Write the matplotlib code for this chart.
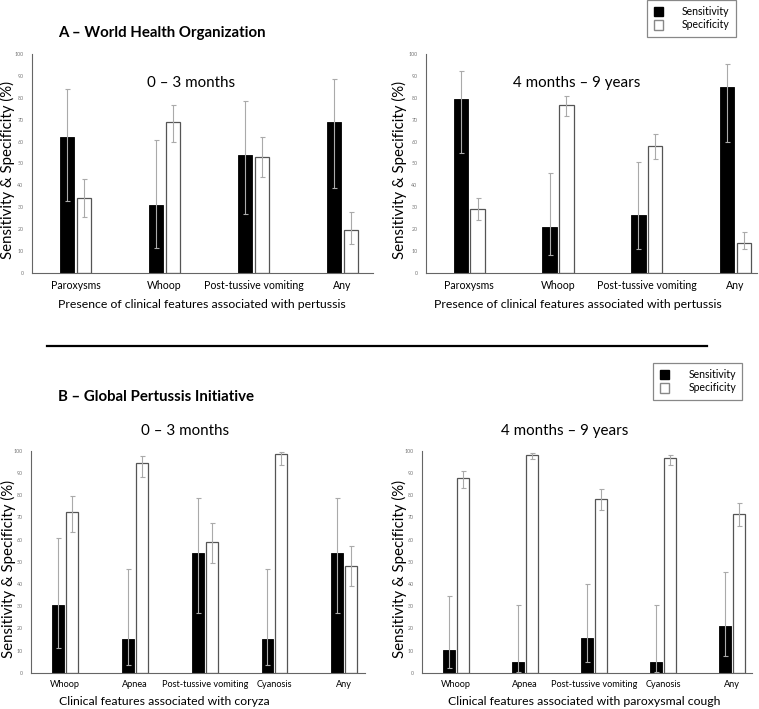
import matplotlib.pyplot as plt
import numpy as np
from matplotlib.lines import Line2D
from matplotlib.patches import Patch

plt.rcParams['font.family'] = ['Lato', 'DejaVu Sans']

#### data ####
who_cats = ['Paroxysms', 'Whoop', 'Post-tussive vomiting', 'Any']
gpi_cats = ['Whoop', 'Apnea', 'Post-tussive vomiting', 'Cyanosis', 'Any']

# A - WHO, 0-3 months
a1_sens = [62, 31, 54, 69]
a1_sens_lo = [33, 11.4, 27, 39]
a1_sens_hi = [84, 60.7, 78.7, 88.7]
a1_spec = [34, 69, 53, 19.5]
a1_spec_lo = [25.6, 60, 44, 13]
a1_spec_hi = [43, 76.7, 62, 27.9]

# A - WHO, 4 months - 9 years
a2_sens = [79.2, 21.2, 26.3, 84.7]
a2_sens_lo = [54.7, 8, 11, 60]
a2_sens_hi = [92.4, 45.6, 50.8, 95.6]
a2_spec = [29, 76.6, 58, 13.9]
a2_spec_lo = [24.4, 71.5, 52.2, 10.8]
a2_spec_hi = [34.4, 80.8, 63.4, 18.5]

# B - GPI, 0-3 months
b1_sens = [30.7, 15.3, 54, 15.3, 54]
b1_sens_lo = [11.2, 3.4, 27, 3.4, 27]
b1_sens_hi = [60.7, 46.9, 78.7, 46.9, 78.7]
b1_spec = [72.4, 94.5, 58.9, 98.5, 48]
b1_spec_lo = [63.4, 88.3, 49.5, 93.6, 39]
b1_spec_hi = [79.9, 97.6, 67.5, 99.7, 57]

# B - GPI, 4 months - 9 years
b2_sens = [10.4, 5.1, 15.5, 5.1, 21.1]
b2_sens_lo = [2, 0.5, 5, 0.5, 7.5]
b2_sens_hi = [34.8, 30.6, 40, 30.6, 45.4]
b2_spec = [87.8, 98.2, 78.4, 96.8, 71.6]
b2_spec_lo = [83.4, 96.2, 73.5, 93.7, 66]
b2_spec_hi = [90.9, 99.2, 82.8, 98.2, 76.5]


def panel(ax, cats, sens, slo, shi, spec, plo, phi, w, off, xr,
          sub, sub_xy, xlab, xlab_xy, ylab_x, tick_fs):
    x = np.arange(len(cats))
    sens = np.array(sens); spec = np.array(spec)
    serr = [sens - np.array(slo), np.array(shi) - sens]
    perr = [spec - np.array(plo), np.array(phi) - spec]
    ek = dict(ecolor='#aaaaaa', elinewidth=0.8, capsize=1.8, capthick=0.8)
    ax.bar(x - off, sens, w, color='black', edgecolor='black', lw=0.6,
           yerr=serr, error_kw=ek)
    ax.bar(x + off, spec, w, color='white', edgecolor='#555555', lw=0.9,
           yerr=perr, error_kw=ek)
    ax.set_ylim(0, 100)
    ax.set_xlim(-0.49, xr)
    ax.set_yticks(np.arange(0, 101, 10))
    ax.set_xticks(x)
    ax.set_xticklabels(cats, fontsize=tick_fs)
    ax.tick_params(axis='y', length=0, labelsize=3.8, labelcolor='#777777', pad=6)
    ax.tick_params(axis='x', length=0, pad=5)
    for s in ['top', 'right']:
        ax.spines[s].set_visible(False)
    ax.spines['left'].set_color('#666666')
    ax.spines['bottom'].set_color('#666666')
    ax.text(sub_xy[0], sub_xy[1], sub, transform=ax.transAxes, fontsize=10.9,
            ha='center', va='center')
    ax.text(xlab_xy[0], xlab_xy[1], xlab, transform=ax.transAxes, fontsize=8.8,
            ha='center', va='center')
    ax.text(ylab_x, 0.47, 'Sensitivity & Specificity (%)', transform=ax.transAxes,
            fontsize=10.8, rotation=90, ha='center', va='center')


fig = plt.figure(figsize=(7.59, 7.09), dpi=100)

ax1 = fig.add_axes([0.042, 0.615, 0.449, 0.309])
ax2 = fig.add_axes([0.561, 0.615, 0.436, 0.309])
ax3 = fig.add_axes([0.041, 0.051, 0.440, 0.313])
ax4 = fig.add_axes([0.556, 0.051, 0.435, 0.313])

panel(ax1, who_cats, a1_sens, a1_sens_lo, a1_sens_hi, a1_spec, a1_spec_lo, a1_spec_hi,
      0.165, 0.095, 3.34, '0 – 3 months', (0.466, 0.868),
      'Presence of clinical features associated with pertussis', (0.5, -0.146), -0.072, 7.6)
panel(ax2, who_cats, a2_sens, a2_sens_lo, a2_sens_hi, a2_spec, a2_spec_lo, a2_spec_hi,
      0.165, 0.095, 3.24, '4 months – 9 years', (0.456, 0.868),
      'Presence of clinical features associated with pertussis', (0.46, -0.146), -0.079, 7.6)
panel(ax3, gpi_cats, b1_sens, b1_sens_lo, b1_sens_hi, b1_spec, b1_spec_lo, b1_spec_hi,
      0.17, 0.1, 4.3, '0 – 3 months', (0.461, 1.09),
      'Clinical features associated with coryza', (0.40, -0.13), -0.069, 6.6)
panel(ax4, gpi_cats, b2_sens, b2_sens_lo, b2_sens_hi, b2_spec, b2_spec_lo, b2_spec_hi,
      0.17, 0.1, 4.29, '4 months – 9 years', (0.433, 1.09),
      'Clinical features associated with paroxysmal cough', (0.49, -0.13), -0.067, 6.6)

fig.text(0.076, 0.953, 'A – World Health Organization', fontsize=10.8,
         fontweight='bold', va='center')
fig.text(0.076, 0.44, 'B – Global Pertussis Initiative', fontsize=10.8,
         fontweight='bold', va='center')

# separator line
fig.add_artist(Line2D([0.062, 0.931], [0.512, 0.512], color='black', lw=1.6,
                      transform=fig.transFigure))

handles = [Patch(facecolor='black', edgecolor='black', label='Sensitivity'),
           Patch(facecolor='white', edgecolor='#888888', label='Specificity')]
for anchor in [(0.970, 1.0), (0.978, 0.488)]:
    leg = fig.legend(handles=handles, loc='upper right', bbox_to_anchor=anchor,
                     fontsize=7.6, fancybox=False, edgecolor='#888888', framealpha=1,
                     handlelength=0.9, handleheight=1.0, handletextpad=1.8,
                     borderpad=0.6, borderaxespad=0, labelspacing=0.2)
    leg.get_frame().set_linewidth(0.9)

plt.savefig('out.png', dpi=100)
